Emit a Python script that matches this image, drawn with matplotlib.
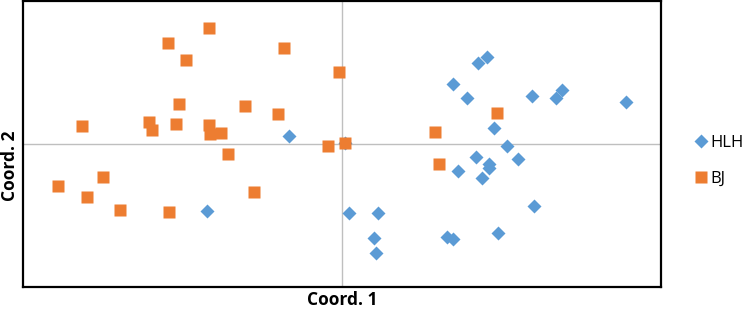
import matplotlib
matplotlib.use("Agg")
import matplotlib.pyplot as plt

# PCoA coordinates
hlh_x = [-0.53, -1.35, 0.07, 1.45, 1.36, 1.11, 1.25, 1.90, 2.20, 2.14, 2.84,
         1.52, 1.65, 1.76, 1.34, 1.47, 1.47, 1.40, 1.16, 1.92, 0.36, 0.32,
         0.34, 1.05, 1.11, 1.56, 0.03]
hlh_y = [0.08, -0.67, -0.69, 0.87, 0.81, 0.60, 0.46, 0.48, 0.54, 0.46, 0.42,
         0.16, -0.02, -0.15, -0.13, -0.20, -0.24, -0.34, -0.27, -0.62, -0.69,
         -0.94, -1.09, -0.93, -0.95, -0.89, 0.01]

bj_x = [-1.33, -1.74, -1.56, -0.58, -0.03, -1.63, -0.97, -0.64, -2.60, -1.93,
        -1.90, -1.66, -1.33, -1.32, -1.21, -1.14, -0.14, 0.03, -2.39, -2.84,
        -2.55, -2.22, -1.73, -0.88, 1.55, 0.93, 0.97]
bj_y = [1.16, 1.01, 0.84, 0.96, 0.72, 0.40, 0.38, 0.30, 0.18, 0.22, 0.14,
        0.20, 0.19, 0.10, 0.11, -0.10, -0.02, 0.01, -0.33, -0.42, -0.53,
        -0.66, -0.68, -0.48, 0.31, 0.12, -0.20]

blue = "#5B9BD5"
orange = "#ED7D31"

fig = plt.figure(figsize=(7.44, 3.11), dpi=100)
ax = fig.add_axes([23 / 744, 24 / 311, 638 / 744, 286 / 311])

ax.axhline(0, color="#BFBFBF", lw=1, zorder=1)
ax.axvline(0, color="#BFBFBF", lw=1, zorder=1)

ax.plot(hlh_x, hlh_y, "D", color=blue, markersize=7, mec="none", label="HLH", zorder=3)
ax.plot(bj_x, bj_y, "s", color=orange, markersize=8.5, mec="none", label="BJ", zorder=3)

ax.set_xlim(-3.19, 3.19)
ax.set_ylim(-1.43, 1.43)
ax.set_xticks([])
ax.set_yticks([])
for s in ax.spines.values():
    s.set_linewidth(1.6)
    s.set_color("black")

fig.text(342 / 744, 11 / 311, "Coord. 1", ha="center", va="center",
         fontsize=12.5, fontweight="bold", family="Open Sans")
fig.text(10 / 744, 145 / 311, "Coord. 2", ha="center", va="center",
         rotation=90, fontsize=12.5, fontweight="bold", family="Open Sans")

ax.legend(loc="center left", bbox_to_anchor=(690 / 744, 150 / 311),
          bbox_transform=fig.transFigure, frameon=False, handlelength=0.55,
          handletextpad=0.25, labelspacing=1.2, borderaxespad=0,
          prop={"family": "Open Sans", "size": 12})

fig.savefig("out.png", dpi=100)
